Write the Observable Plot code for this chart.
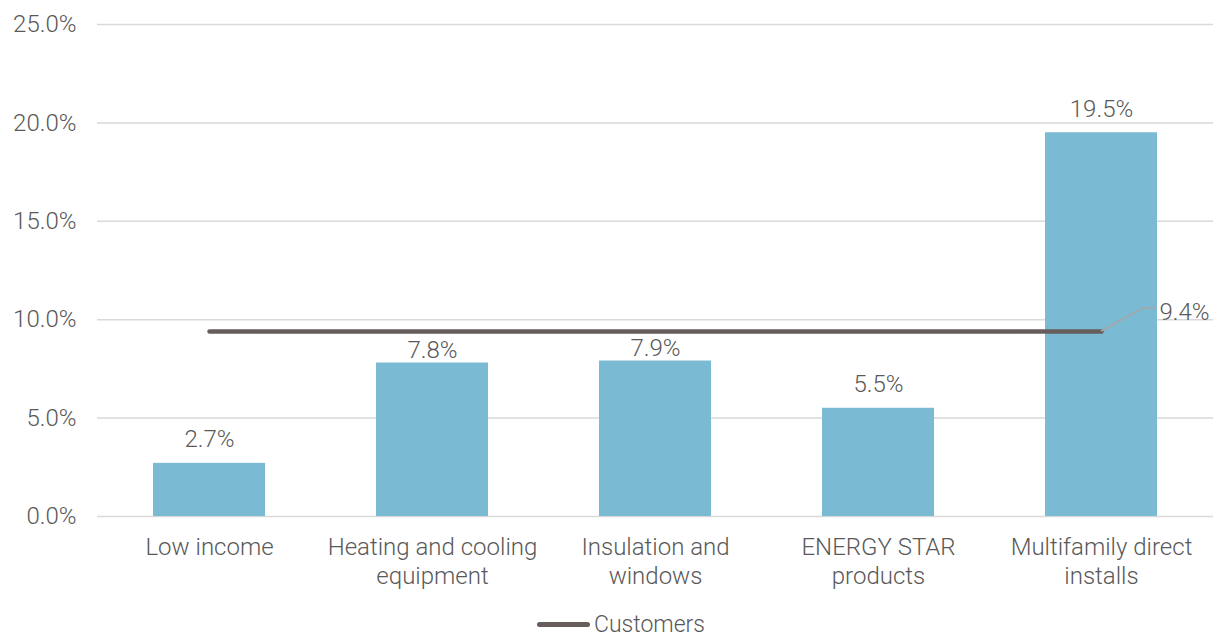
<!DOCTYPE html>
<html>
<head>
<meta charset="utf-8">
<script src="https://cdn.jsdelivr.net/npm/d3@7"></script>
<script src="https://cdn.jsdelivr.net/npm/@observablehq/plot@0.6"></script>
<style>
  body { margin: 0; background: #fff; font-family: Roboto, "Liberation Sans", Arial, sans-serif; font-weight: 300; overflow: hidden; }
  #wrap { position: relative; width: 1220px; height: 639px; }
  #legend { position: absolute; left: 537px; top: 613px; height: 23px; line-height: 23px; display: flex; align-items: center; color: #595959; font-size: 23px; }
  #legend .sw { width: 53px; height: 5px; border-radius: 3px; background: #675E5B; margin-right: 4px; }
</style>
</head>
<body>
<div id="wrap">
  <div id="chart"></div>
  <div id="legend"><div class="sw"></div><span>Customers</span></div>
</div>
<script>
const categories = ["Low income", "Heating and cooling\nequipment", "Insulation and\nwindows", "ENERGY STAR\nproducts", "Multifamily direct\ninstalls"];
const barValues = [2.7, 7.8, 7.9, 5.5, 19.5];
const customerValue = 9.4;
const yTicks = [0, 5, 10, 15, 20, 25];

const bars = categories.map((c, i) => ({category: c, value: barValues[i]}));
const line = categories.map(c => ({category: c, value: customerValue}));
const fmt = v => v.toFixed(1) + "%";
const textColor = "#595959";
// labels that would sit on the customer line are tucked closer to their bar
const nearLine = d => d.value < customerValue && customerValue - d.value < 3;

const plot = Plot.plot({
  width: 1220,
  height: 605,
  marginTop: 24,
  marginBottom: 89,
  marginLeft: 97,
  marginRight: 7,
  style: {fontFamily: "Roboto, Liberation Sans, Arial, sans-serif", fontWeight: 300, fontSize: "24px", color: textColor, background: "#fff"},
  x: {domain: categories, paddingInner: 0.5, paddingOuter: 0.25, align: 0.5, label: null},
  y: {domain: [0, 25], label: null},
  marks: [
    Plot.ruleY(yTicks, {stroke: "#D9D9D9", strokeWidth: 1.5}),
    Plot.axisY({ticks: yTicks, tickSize: 0, tickPadding: 21, tickFormat: fmt, fontSize: 24, fill: textColor, label: null}),
    Plot.axisX({tickSize: 0, tickPadding: 19, fontSize: 24, fill: textColor, lineHeight: 1.17, label: null}),
    Plot.barY(bars, {x: "category", y: "value", fill: "#7BBAD3"}),
    Plot.text(bars.filter(d => !nearLine(d)), {x: "category", y: "value", text: d => fmt(d.value), lineAnchor: "bottom", dy: -16, fontSize: 24, fill: textColor}),
    Plot.text(bars.filter(nearLine), {x: "category", y: "value", text: d => fmt(d.value), lineAnchor: "bottom", dy: -5, fontSize: 24, fill: textColor}),
    Plot.line(line, {x: "category", y: "value", stroke: "#675E5B", strokeWidth: 4.5, strokeLinecap: "round"}),
    Plot.text([line[line.length - 1]], {x: "category", y: "value", text: d => fmt(d.value), textAnchor: "start", dx: 58, dy: -19, fontSize: 24, fill: textColor})
  ]
});
document.getElementById("chart").appendChild(plot);

// leader line for the customer label, anchored on the library's scales
const xs = plot.scale("x"), ys = plot.scale("y");
const last = line[line.length - 1];
const px = xs.apply(last.category) + xs.bandwidth / 2;
const py = ys.apply(last.value);
d3.select(plot).append("path")
  .attr("d", `M${px},${py}L${px + 42},${py - 23}L${px + 54},${py - 23}`)
  .attr("fill", "none").attr("stroke", "#A6A6A6").attr("stroke-width", 1.5);
</script>
</body>
</html>
